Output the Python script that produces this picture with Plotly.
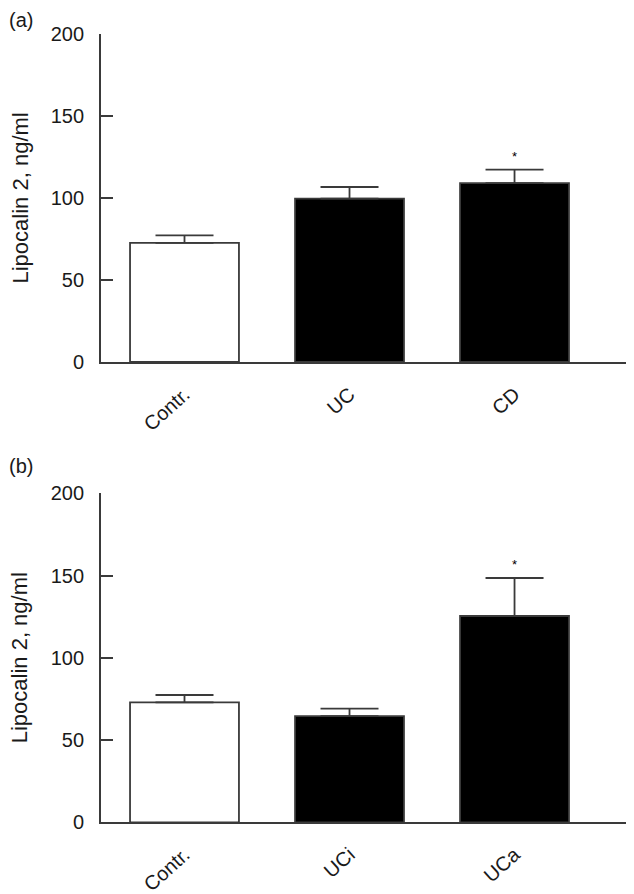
import plotly.graph_objects as go

# The page body has an 8px default margin, so the figure is sized to end at the window edge.
OFF = 8
W, H = 634 - OFF, 894 - OFF

# Data
cats_a = ["Contr.", "UC", "CD"]
means_a = [72.6, 99.6, 109.1]
sem_a = [4.6, 7.1, 8.2]
sig_a = [False, False, True]

cats_b = ["Contr.", "UCi", "UCa"]
means_b = [72.9, 64.6, 125.4]
sem_b = [4.5, 4.5, 23.1]
sig_b = [False, False, True]

fills = ["white", "black", "black"]
yticks = [0, 50, 100, 150, 200]
ytitle = "Lipocalin 2, ng/ml"
panel_labels = ["(a)", "(b)"]

FONT = "Liberation Sans, Arial, sans-serif"
LC = "#3a3a3a"
TC = "#1a1a1a"

fig = go.Figure()

def px(v):
    return v - OFF

x_left = px(101) / W
dom_a = [1 - px(362) / H, 1 - px(34) / H]
dom_b = [1 - px(822.3) / H, 1 - px(493.3) / H]

panels = [
    (cats_a, means_a, sem_a, sig_a, "x", "y", dom_a),
    (cats_b, means_b, sem_b, sig_b, "x2", "y2", dom_b),
]

for i, (cats, means, sems, sigs, xa, ya, dom) in enumerate(panels):
    xs = list(range(len(cats)))
    fig.add_trace(go.Bar(
        x=xs, y=means, width=0.66,
        marker=dict(color=fills, line=dict(color=LC, width=1.8)),
        error_y=dict(type="data", symmetric=False, array=sems,
                     arrayminus=[0] * len(sems), color=LC, thickness=1.8, width=29),
        xaxis=xa, yaxis=ya, showlegend=False,
    ))
    for j, s in enumerate(sigs):
        if s:
            fig.add_annotation(x=xs[j], y=means[j] + sems[j], xref=xa, yref=ya,
                               text="*", showarrow=False, yanchor="bottom",
                               yshift=4, font=dict(family=FONT, size=13, color="black"))
    axn = "" if i == 0 else "2"
    fig.update_layout(**{
        f"xaxis{axn}": dict(domain=[x_left, 1], range=[-0.506, 2.724],
                            tickmode="array", tickvals=xs, ticktext=cats,
                            tickangle=-42, ticks="", showline=True, linecolor=LC,
                            linewidth=1.8, showgrid=False, zeroline=False,
                            ticklabelstandoff=11,
                            tickfont=dict(family=FONT, size=20, color=TC),
                            anchor=ya, automargin=False, fixedrange=True),
        f"yaxis{axn}": dict(domain=dom, range=[0, 200], tickmode="array",
                            tickvals=yticks, ticks="inside", ticklen=12,
                            tickwidth=1.8, tickcolor=LC, showline=True,
                            linecolor=LC, linewidth=1.8, showgrid=False,
                            zeroline=False, anchor=xa, automargin=False,
                            ticklabelstandoff=11,
                            tickfont=dict(family=FONT, size=20, color=TC),
                            fixedrange=True),
    })
    # y title
    fig.add_annotation(x=0, y=(dom[0] + dom[1]) / 2, xref="paper", yref="paper",
                       text=ytitle, textangle=-90, showarrow=False,
                       xanchor="left", yanchor="middle", borderpad=0, xshift=-2,
                       font=dict(family=FONT, size=22, color=TC))
    # panel label
    label_y = 1 if i == 0 else dom[1] + (px(493.3) - px(454)) / H
    fig.add_annotation(x=0, y=label_y, xref="paper", yref="paper",
                       text=panel_labels[i], showarrow=False,
                       xanchor="left", yanchor="top", borderpad=0,
                       font=dict(family=FONT, size=20, color=TC))

fig.update_layout(
    width=W, height=H, autosize=False,
    margin=dict(l=0, r=0, t=0, b=0),
    paper_bgcolor="white", plot_bgcolor="white",
    bargap=0.3,
)

fig.write_html("out.html")
